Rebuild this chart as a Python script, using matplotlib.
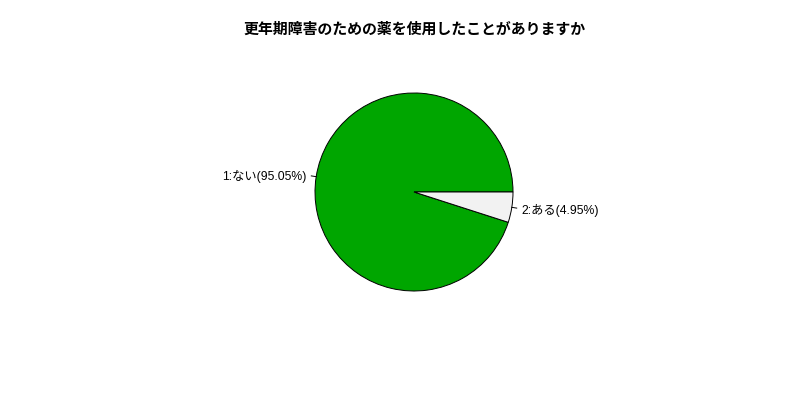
import numpy as np
import matplotlib
matplotlib.use('Agg')
import matplotlib.pyplot as plt

plt.rcParams['font.family'] = ['Liberation Sans', 'Noto Sans CJK JP']

# data
title = '更年期障害のための薬を使用したことがありますか'
labels = ['1:ない(95.05%)', '2:ある(4.95%)']
values = [95.05, 4.95]
colors = ['#00A600', '#F2F2F2']

fig = plt.figure(figsize=(8, 4), dpi=100)
ax = fig.add_axes([0, 0, 1, 1])

cx, cy, r = 414, 208, 99
wedges, _ = ax.pie(values, colors=colors, startangle=0, counterclock=True,
                   center=(cx, cy), radius=r, frame=True,
                   wedgeprops=dict(edgecolor='black', linewidth=0.7))
ax.set_xlim(0, 800)
ax.set_ylim(0, 400)
ax.set_aspect('equal')
ax.axis('off')

# label dengan garis kecil ala R
for w, lab in zip(wedges, labels):
    mid = np.deg2rad((w.theta1 + w.theta2) / 2)
    c, s = np.cos(mid), np.sin(mid)
    ax.plot([cx + r * c, cx + 1.05 * r * c], [cy + r * s, cy + 1.05 * r * s],
            color='black', lw=0.7)
    ax.text(cx + 1.1 * r * c, cy + 1.1 * r * s - 1.5, lab,
            ha='left' if c > 0 else 'right', va='center', fontsize=8.8)

ax.text(cx, 370, title, ha='center', va='center', fontsize=10.75, fontweight='bold')

fig.savefig('out.png', dpi=100)
